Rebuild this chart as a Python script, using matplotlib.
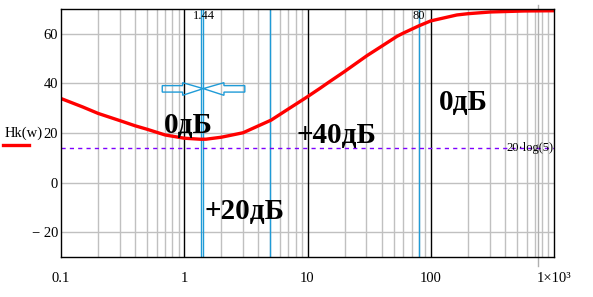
import numpy as np
import matplotlib
matplotlib.use("Agg")
import matplotlib.pyplot as plt
from matplotlib.patches import Polygon
from matplotlib.ticker import FixedLocator, NullFormatter

# values: Hk(w) in dB
w = [0.1, 0.15, 0.2, 0.3, 0.4, 0.5, 0.7, 1.0, 1.34, 1.5, 2.0, 3.0, 5.07, 7.0,
     9.9, 12.7, 15.0, 19.6, 30.4, 40.0, 53.3, 60.0, 80.0, 100.0, 163.0, 200.0,
     305.0, 570.0, 1000.0]
Hk = [33.9, 30.5, 27.9, 25.0, 22.9, 21.5, 19.2, 17.9, 17.5, 17.5, 18.3, 20.1,
      25.2, 29.7, 34.5, 38.1, 40.6, 44.5, 51.2, 55.0, 59.0, 60.3, 63.2, 65.2,
      67.6, 68.1, 68.8, 69.2, 69.3]

marker_x = [1.37, 1.43, 5.0, 80.0]
level = 20 * np.log10(5)

yticks = [-20, 0, 20, 40, 60]
ylabels = ["\u2212 20", "0", "20", "40", "60"]
xticks = [0.1, 1, 10, 100, 1000]
xlabels = ["0.1", "1", "10", "100", "1\u00d710\u00b3"]

serif = ["Liberation Serif", "DejaVu Serif"]
blue = "#1f9bd7"

fig = plt.figure(figsize=(5.93, 2.97), dpi=100)
ax = fig.add_axes([61 / 593, 1 - 257 / 297, 493 / 593, 248 / 297])
ax.set_xscale("log")
ax.set_xlim(0.1, 1000)
ax.set_ylim(-30, 70)

# grid
minors = [m * 10.0 ** d for d in range(-1, 3) for m in range(2, 10)]
for xv in minors:
    ax.axvline(xv, color="#c0c0c0", lw=1, zorder=1)
for yv in yticks:
    ax.axhline(yv, color="#c0c0c0", lw=1, zorder=1)
for xv in [1, 10, 100]:
    ax.axvline(xv, color="black", lw=1, zorder=2)

for xv in marker_x:
    ax.axvline(xv, color=blue, lw=1, zorder=3)

ax.axhline(level, color="#7f00ff", lw=1, ls=(0, (3, 3)), zorder=3)

ax.plot(w, Hk, color="red", lw=2.4, zorder=5, solid_capstyle="butt")

ax.set_xticks(xticks)
ax.set_xticklabels(xlabels)
ax.xaxis.set_minor_locator(FixedLocator([]))
ax.xaxis.set_minor_formatter(NullFormatter())
ax.set_yticks(yticks)
ax.set_yticklabels(ylabels)
ax.tick_params(length=0, labelsize=10.5, pad=2)
ax.tick_params(axis="x", pad=11)
for lab in ax.get_xticklabels() + ax.get_yticklabels():
    lab.set_family(serif)
for sp in ax.spines.values():
    sp.set_color("black")
    sp.set_linewidth(1)
    sp.set_zorder(6)

# cursor line near 1e3
ax.plot([741, 741], [1.016, -0.036], color="#b0b0b0", lw=1,
        transform=ax.get_xaxis_transform(), clip_on=False)

# bow-tie arrows
left = [(0.663, 39.1), (0.97, 39.1), (0.97, 40.3), (1.427, 37.9),
        (0.97, 35.2), (0.97, 36.5), (0.663, 36.5)]
right = [(3.10, 39.1), (2.10, 39.1), (2.10, 40.3), (1.427, 37.9),
         (2.10, 35.2), (2.10, 36.5), (3.10, 36.5)]
for pts in (left, right):
    ax.add_patch(Polygon(pts, closed=True, fill=False, ec=blue, lw=1, zorder=4))

# small labels
ax.text(1.44, 67, "1.44", family=serif, fontsize=9, ha="center", va="center")
ax.text(80, 67, "80", family=serif, fontsize=9, ha="center", va="center")
ax.text(985, level, "20\u00b7log(5)", family=serif, fontsize=9, ha="right",
        va="center")

def ftext(px, py, s):
    fig.text(px / 593, 1 - py / 297, s, family=serif, fontweight="bold",
             fontsize=21, ha="left", va="baseline")

ftext(164, 133.5, "0\u0434\u0411")
ftext(439, 110, "0\u0434\u0411")
ftext(296, 143, "+40\u0434\u0411")
ftext(204, 219, "+20\u0434\u0411")

# legend
fig.text(5 / 593, 1 - 133 / 297, "Hk(w)", family=serif, fontsize=10.5,
         ha="left", va="center")
fig.add_artist(plt.Line2D([3 / 593, 29 / 593], [1 - 145 / 297, 1 - 145 / 297],
                          color="red", lw=2.4, transform=fig.transFigure))

fig.savefig("out.png", dpi=100)
